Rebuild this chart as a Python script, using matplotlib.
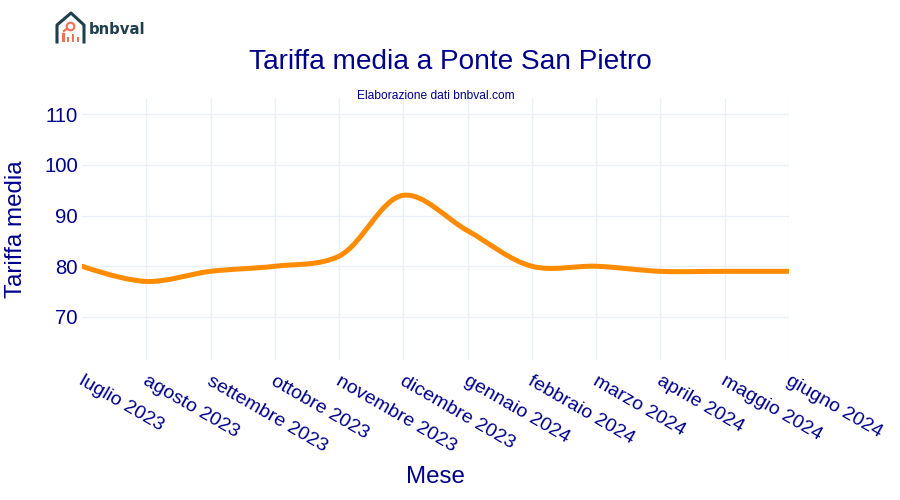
import matplotlib
matplotlib.use("Agg")
import matplotlib.pyplot as plt
import numpy as np
from matplotlib.path import Path
from matplotlib.patches import PathPatch, Rectangle
from matplotlib.transforms import IdentityTransform, ScaledTranslation

plt.rcParams['font.family'] = ['Liberation Sans', 'DejaVu Sans']

months = ["luglio 2023", "agosto 2023", "settembre 2023", "ottobre 2023",
          "novembre 2023", "dicembre 2023", "gennaio 2024", "febbraio 2024",
          "marzo 2024", "aprile 2024", "maggio 2024", "giugno 2024"]
tariffa = [80, 77, 79, 80, 82, 94, 87, 80, 80, 79, 79, 79]
y_ticks = [70, 80, 90, 100, 110]

BLUE = "#00008B"
GRID = "#EBF0F8"
ORANGE = "#FF8C00"
W, H = 900, 500


def fx(px):
    return px / W


def fy(py):
    return 1 - py / H


fig = plt.figure(figsize=(9, 5), dpi=100, facecolor="white")
ax = fig.add_axes([fx(82), fy(360), (789 - 82) / W, (360 - 98) / H])
x = np.arange(len(months))
ax.set_xlim(0, len(months) - 1)
ax.set_ylim(61.5, 113.2)
for s in ax.spines.values():
    s.set_visible(False)
ax.set_axisbelow(True)
ax.grid(True, color=GRID, linewidth=1)
ax.set_yticks(y_ticks)
ax.set_xticks(x)
ax.tick_params(length=0)
ax.tick_params(axis='y', labelsize=14.6, labelcolor=BLUE, pad=3)
ax.set_xticklabels(months, rotation=-30, ha='left', va='top',
                   rotation_mode='anchor', fontsize=14.0, color=BLUE)
ax.tick_params(axis='x', pad=9)
shift = ScaledTranslation(1.5 / 72, 0, fig.dpi_scale_trans)
for lab in ax.get_xticklabels():
    lab.set_transform(lab.get_transform() + shift)
ax.get_xgridlines()[0].set_visible(False)

# spline through the data, same tangent construction as a Catmull-Rom curve
pts = ax.transData.transform(np.column_stack([x, tariffa]))
out, inn = [], []
for i in range(1, len(pts) - 1):
    d1 = pts[i - 1] - pts[i]
    d2 = pts[i + 1] - pts[i]
    a1 = np.hypot(*d1) ** 0.5
    a2 = np.hypot(*d2) ** 0.5
    num = a2 * a2 * d1 - a1 * a1 * d2
    inn.append(pts[i] + num / (3 * a2 * (a1 + a2)))
    out.append(pts[i] - num / (3 * a1 * (a1 + a2)))
verts = [pts[0], inn[0], pts[1]]
codes = [Path.MOVETO, Path.CURVE3, Path.CURVE3]
for i in range(1, len(pts) - 2):
    verts += [out[i - 1], inn[i], pts[i + 1]]
    codes += [Path.CURVE4] * 3
verts += [out[-1], pts[-1]]
codes += [Path.CURVE3, Path.CURVE3]
curve = PathPatch(Path(verts, codes), transform=IdentityTransform(), fill=False,
                  edgecolor=ORANGE, linewidth=3.6, capstyle='round', joinstyle='round')
ax.add_patch(curve)
curve.set_clip_path(ax.patch)

fig.text(fx(450), fy(62), "Tariffa media a Ponte San Pietro", ha='center', va='center',
         fontsize=20.2, color=BLUE)
fig.text(fx(435.5), fy(95.5), "Elaborazione dati bnbval.com", ha='center', va='center',
         fontsize=8.65, color=BLUE)
fig.text(fx(16), fy(229), "Tariffa media", rotation=90, ha='center', va='center',
         fontsize=17.4, color=BLUE)
fig.text(fx(435.5), fy(477), "Mese", ha='center', va='center', fontsize=17.4, color=BLUE)

# logo
DARK = "#1F3F4D"
CORAL = "#F0705A"
fig.add_artist(plt.Line2D([fx(57), fx(57), fx(71), fx(84), fx(84)],
                          [fy(42), fy(25), fy(13), fy(25), fy(42)],
                          color=DARK, linewidth=2.2, solid_joinstyle='round'))
for bx, bt in zip([62, 66.5, 71.5, 76.5], [33, 37, 34, 37]):
    fig.add_artist(Rectangle((fx(bx), fy(42)), 2.6 / W, (42 - bt) / H,
                             transform=fig.transFigure, facecolor=CORAL, edgecolor='none'))
fig.add_artist(plt.Line2D([fx(64), fx(67)], [fy(31), fy(28.5)], color=CORAL, linewidth=1.6))
fig.add_artist(plt.Line2D([fx(69.5)], [fy(26)], marker='o', markersize=5.5, markerfacecolor='none',
                          markeredgecolor=CORAL, markeredgewidth=1.5))
fig.text(fx(89), fy(29.5), "bnbval", ha='left', va='center', fontsize=10.7,
         fontweight='bold', color=DARK, family=['DejaVu Sans'])

fig.savefig("out.png", dpi=100)
